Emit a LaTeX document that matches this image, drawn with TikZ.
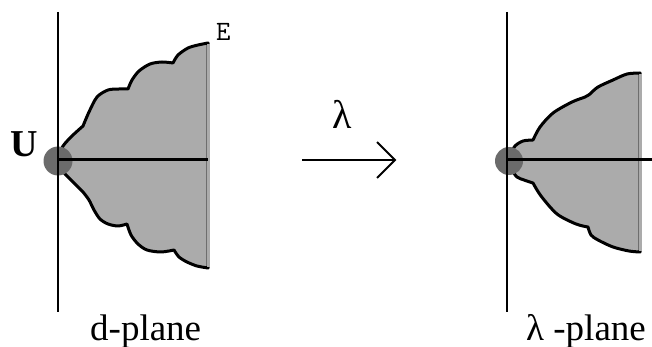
\documentclass[tikz,border=0pt]{standalone}
\usepackage{fontspec}
\usetikzlibrary{calc}
\setmainfont{Liberation Serif}
\begin{document}
\begin{tikzpicture}[x=1pt,y=-1pt,
  region/.style={fill=black!33},
  rim/.style={draw=black, line width=3pt, line join=round},
  disc/.style={fill=black!58},
  vaxis/.style={line width=2pt},
  haxis/.style={line width=3pt},
  lbl/.style={inner sep=0pt, anchor=base west, font=\fontsize{37}{40}\selectfont}]
\useasboundingbox (0,0) rectangle (652,347);
% ---------- left region (d-plane)
\path[region, rim] (58,157)
  -- plot[smooth] coordinates {(58,157) (63,146) (72,136) (83,126)}
  -- plot[smooth] coordinates {(83,126) (89,112) (97,97) (108,90) (119,89) (128,89)}
  -- plot[smooth] coordinates {(128,89) (132,80) (139,71) (150,64) (162,62) (173,63)}
  -- plot[smooth] coordinates {(173,63) (178,55) (188,48) (198,45) (208,43)}
  -- (208,268)
  -- plot[smooth] coordinates {(208,268) (197,266) (187,262) (179,257) (174,250)}
  -- plot[smooth] coordinates {(174,250) (161,252) (147,250) (138,244) (131,235) (127,224)}
  -- plot[smooth] coordinates {(127,224) (118,226) (108,224) (100,219) (94,210) (89,200) (83,192)}
  -- plot[smooth] coordinates {(83,192) (74,183) (66,175) (60,168) (58,163)}
  -- cycle;
\fill[region] (206.5,44) rectangle (210,267);
\fill[disc] (58,161) circle (14.5);
\coordinate (dtop) at (58,12);
\coordinate (dbot) at (58,312);
\coordinate (dO) at (58,160);
\coordinate (dE) at (208,160);
\draw[vaxis] (dtop) -- (dbot);
\draw[haxis] (dO) -- (dE);
\node[lbl, font=\bfseries\fontsize{38}{40}\selectfont] (U) at (10,157) {U};
\node[inner sep=0pt, anchor=base west, font=\ttfamily\fontsize{28}{30}\selectfont] (E) at (216,41) {E};
\node[lbl] (dplane) at (90,340) {d-plane};
% ---------- arrow
\coordinate (as) at (302,160);
\coordinate (ae) at (395,160);
\draw[line width=1.8pt] (as) -- (ae);
\draw[line width=1.8pt] ($(ae)+(-18,-18)$) -- (ae) -- ($(ae)+(-18,18)$);
\node[inner sep=0pt, anchor=base, font=\fontsize{40}{42}\selectfont] (lam) at (342,129) {λ};
% ---------- right region (lambda-plane)
\path[region, rim] (510,155)
  -- plot[smooth] coordinates {(510,155) (515,146) (523,141) (533,140)}
  -- plot[smooth] coordinates {(533,140) (540,127) (553,113) (572,102) (585,97) (590,94)}
  -- plot[smooth] coordinates {(590,94) (598,87) (613,80) (627,74) (640,73)}
  -- (640,252)
  -- plot[smooth] coordinates {(640,252) (629,251) (613,247) (598,240) (591,235) (588,227)}
  -- plot[smooth] coordinates {(588,227) (576,224) (557,214) (541,196) (533,183)}
  -- plot[smooth] coordinates {(533,183) (524,180) (517,177) (512,170) (510,164)}
  -- cycle;
\fill[region] (638.5,74) rectangle (642,251);
\fill[disc] (509,161) circle (14);
\coordinate (ltop) at (507,12);
\coordinate (lbot) at (507,312);
\coordinate (lO) at (507,160);
\coordinate (lE) at (652,160);
\draw[vaxis] (ltop) -- (lbot);
\draw[haxis] (lO) -- (lE);
\node[lbl] (lplane) at (526,340) {λ -plane};
\end{tikzpicture}
\end{document}
